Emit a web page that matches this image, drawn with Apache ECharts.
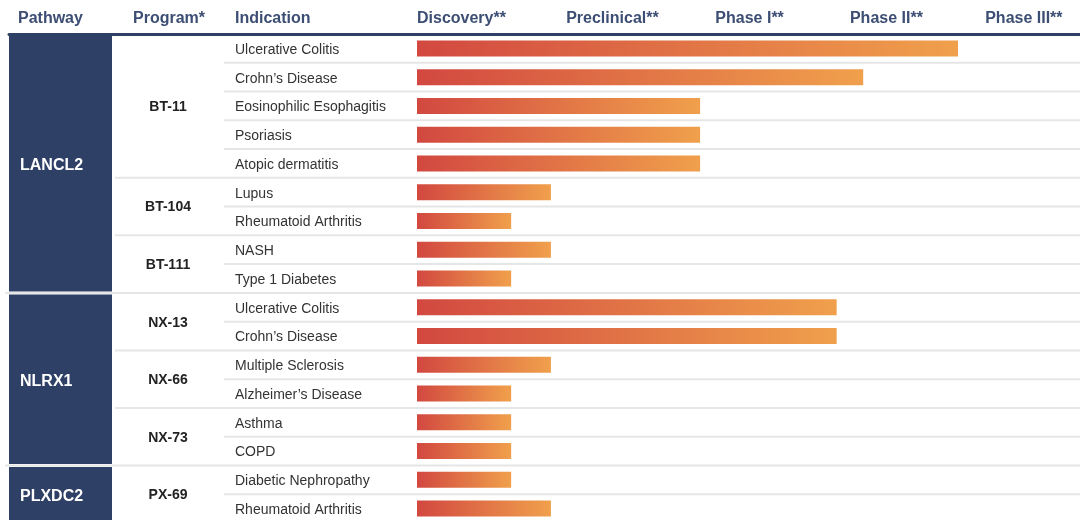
<!DOCTYPE html>
<html>
<head>
<meta charset="utf-8">
<script src="https://cdn.jsdelivr.net/npm/echarts@6/dist/echarts.min.js"></script>
<style>html,body{margin:0;padding:0;background:#fff;overflow:hidden}#c{width:1080px;height:524px}</style>
</head>
<body>
<div id="c"></div>
<script>
// ---- data ----
const indications = ['Ulcerative Colitis','Crohn\u2019s Disease','Eosinophilic Esophagitis','Psoriasis','Atopic dermatitis','Lupus','Rheumatoid Arthritis','NASH','Type 1 Diabetes','Ulcerative Colitis','Crohn\u2019s Disease','Multiple Sclerosis','Alzheimer\u2019s Disease','Asthma','COPD','Diabetic Nephropathy','Rheumatoid Arthritis'];
const progress = [81.6, 67.3, 42.7, 42.7, 42.7, 20.2, 14.2, 20.2, 14.2, 63.3, 63.3, 20.2, 14.2, 14.2, 14.2, 14.2, 20.2];
const programs = ['BT-11','BT-104','BT-111','NX-13','NX-66','NX-73','PX-69'];
const programRowCounts = [5, 2, 2, 2, 2, 2, 2];
const pathways = ['LANCL2','NLRX1','PLXDC2'];
const pathwayProgramCounts = [3, 3, 1];
const stages = ['Discovery**','Preclinical**','Phase I**','Phase II**','Phase III**'];
const stageStarts = [0, 22.5, 45, 65.3, 85.7];
const tableHeaders = ['Pathway','Program*','Indication'];

// ---- layout (positions in table-grid units, pixels from its left) ----
const tableHeaderX = [9, 124, 226];
const pathwayColEnd = 103;
const programColCenter = 159;
const indicationColStart = 215;

// derived group ranges
const programRanges = [];
let r = 0;
programRowCounts.forEach((n, i) => { programRanges.push({ value: [r, r + n - 1], name: programs[i] }); r += n; });
const pathwayRanges = [];
let p = 0;
pathwayProgramCounts.forEach((n, i) => {
  const s = programRanges[p].value[0], e = programRanges[p + n - 1].value[1];
  pathwayRanges.push({ value: [s, e], name: pathways[i] }); p += n;
});
const pathwayStarts = pathwayRanges.map(d => d.value[0]);
const programStarts = programRanges.map(d => d.value[0]);
const boundaries = [];
for (let i = 1; i < indications.length; i++) {
  const kind = pathwayStarts.includes(i) ? 0 : (programStarts.includes(i) ? 1 : 2);
  boundaries.push({ value: [i, kind] });
}

const NAVY = '#2f4066';
const HEAD = '#3c4e73';
const rowCats = indications.map((_, i) => String(i));

const chart = echarts.init(document.getElementById('c'), null, { renderer: 'canvas' });
chart.setOption({
  animation: false,
  backgroundColor: '#ffffff',
  grid: [
    { left: 9, width: 408, top: 34, height: 489 },
    { left: 417, right: 0, top: 34, height: 489 }
  ],
  xAxis: [
    {
      gridIndex: 0, type: 'value', min: 0, max: 408, position: 'top',
      splitLine: { show: false }, axisTick: { show: false },
      axisLine: { show: true, lineStyle: { color: NAVY, width: 3 } },
      axisLabel: {
        customValues: tableHeaderX, align: 'left', margin: 7,
        formatter: v => tableHeaders[tableHeaderX.indexOf(v)],
        color: HEAD, fontFamily: 'Liberation Sans', fontWeight: 'bold', fontSize: 16
      }
    },
    {
      gridIndex: 1, type: 'value', min: 0, max: 100, position: 'top',
      splitLine: { show: false }, axisTick: { show: false },
      axisLine: { show: true, lineStyle: { color: NAVY, width: 3 } },
      axisLabel: {
        customValues: stageStarts, align: 'left', margin: 7,
        formatter: v => stages[stageStarts.indexOf(v)],
        color: HEAD, fontFamily: 'Liberation Sans', fontWeight: 'bold', fontSize: 16
      }
    }
  ],
  yAxis: [
    { gridIndex: 0, type: 'category', data: rowCats, inverse: true, show: false },
    {
      gridIndex: 1, type: 'category', data: indications, inverse: true,
      axisLine: { show: false }, axisTick: { show: false }, splitLine: { show: false },
      axisLabel: {
        align: 'left', margin: 182, verticalAlign: 'middle',
        formatter: v => '{a|' + v + '}',
        rich: { a: { color: '#333', fontFamily: 'Liberation Sans', fontSize: 14, padding: [3, 0, 0, 0] } }
      }
    }
  ],
  series: [
    {
      type: 'custom', xAxisIndex: 0, yAxisIndex: 0, clip: false, silent: true,
      data: boundaries,
      renderItem: (params, api) => {
        const row = api.value(0), kind = api.value(1);
        const h = api.size([0, 1])[1];
        const y = api.coord([0, row])[1] - h / 2;
        const xs = kind === 0 ? api.coord([-4, 0])[0] : (kind === 1 ? api.coord([pathwayColEnd + 3, 0])[0] : api.coord([indicationColStart, 0])[0]);
        return { type: 'line', shape: { x1: xs, y1: y, x2: api.getWidth(), y2: y }, style: { stroke: '#e6e6e6', lineWidth: 2 } };
      }
    },
    {
      type: 'custom', xAxisIndex: 0, yAxisIndex: 0, clip: false, silent: true,
      data: pathwayRanges,
      renderItem: (params, api) => {
        const s = api.value(0), e = api.value(1);
        const h = api.size([0, 1])[1];
        let top = api.coord([0, s])[1] - h / 2 + 1.5;
        let bot = api.coord([0, e])[1] + h / 2 - 1.5;
        const x0 = api.coord([0, 0])[0], x1 = api.coord([pathwayColEnd, 0])[0];
        return {
          type: 'group', children: [
            { type: 'rect', shape: { x: x0, y: top, width: x1 - x0, height: bot - top }, style: { fill: NAVY } },
            { type: 'text', style: { text: pathwayRanges[params.dataIndex].name, x: x0 + 11, y: (top + bot) / 2 + 2, verticalAlign: 'middle', fill: '#fff', font: 'bold 16px "Liberation Sans"' } }
          ]
        };
      }
    },
    {
      type: 'custom', xAxisIndex: 0, yAxisIndex: 0, clip: false, silent: true,
      data: programRanges,
      renderItem: (params, api) => {
        const s = api.value(0), e = api.value(1);
        const y = (api.coord([0, s])[1] + api.coord([0, e])[1]) / 2 + 1;
        const x = api.coord([programColCenter, 0])[0];
        return { type: 'text', style: { text: programRanges[params.dataIndex].name, x: x, y: y, align: 'center', verticalAlign: 'middle', fill: '#222', font: 'bold 14px "Liberation Sans"' } };
      }
    },
    {
      type: 'bar', xAxisIndex: 1, yAxisIndex: 1, barWidth: 16, silent: true,
      data: progress,
      itemStyle: {
        color: new echarts.graphic.LinearGradient(0, 0, 1, 0, [
          { offset: 0, color: '#d24840' },
          { offset: 1, color: '#f0a04c' }
        ])
      }
    }
  ]
});
</script>
</body>
</html>
